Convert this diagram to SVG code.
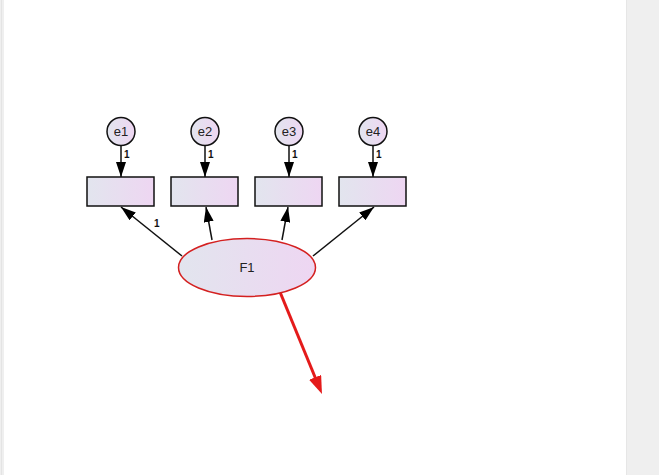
<svg xmlns="http://www.w3.org/2000/svg" width="659" height="475" viewBox="0 0 659 475">
<defs>
<linearGradient id="g" x1="0" y1="0" x2="1" y2="0">
<stop offset="0" stop-color="#e2e5ee"/>
<stop offset="1" stop-color="#eed6f2"/>
</linearGradient>
<marker id="ah2" viewBox="0 0 18 13" refX="1" refY="6.5" markerWidth="18" markerHeight="13" markerUnits="userSpaceOnUse" orient="auto">
<path d="M0,0 L18,6.5 L0,13 z" fill="#e41a1a"/>
</marker>
<marker id="ahs" viewBox="0 0 15 10" refX="15" refY="5" markerWidth="15" markerHeight="10" markerUnits="userSpaceOnUse" orient="auto">
<path d="M0,0 L15,5 L0,10 z" fill="#000"/>
</marker>
</defs>
<style>
.box{fill:url(#g);stroke:#111;stroke-width:1.5}
.err{fill:url(#g);stroke:#111;stroke-width:1.5}
.lat{fill:url(#g);stroke:#d42020;stroke-width:1.5}
.lbl{font-family:"Liberation Sans",Arial,sans-serif;font-size:13px;fill:#222;text-anchor:middle}
.w{font-family:"Liberation Sans",Arial,sans-serif;font-size:10px;fill:#111;font-weight:bold}
.c{stroke:#111;stroke-width:1.5;fill:none}
</style>
<rect x="0" y="0" width="659" height="475" fill="#efefef"/>
<rect x="4" y="0" width="622" height="475" fill="#ffffff"/>
<line x1="626.5" y1="0" x2="626.5" y2="475" stroke="#e6e6e6"/>
<line x1="1.5" y1="0" x2="1.5" y2="475" stroke="#e4e4e4"/>

<g id="connectors">
<line class="c" x1="121" y1="146" x2="121" y2="177" marker-end="url(#ahs)"/>
<line class="c" x1="205" y1="146" x2="205" y2="177" marker-end="url(#ahs)"/>
<line class="c" x1="289" y1="146" x2="289" y2="177" marker-end="url(#ahs)"/>
<line class="c" x1="373" y1="146" x2="373" y2="177" marker-end="url(#ahs)"/>
<line class="c" x1="182" y1="256" x2="121" y2="207" marker-end="url(#ahs)"/>
<line class="c" x1="212" y1="240" x2="206" y2="207" marker-end="url(#ahs)"/>
<line class="c" x1="282" y1="240" x2="288" y2="207" marker-end="url(#ahs)"/>
<line class="c" x1="313" y1="256" x2="374" y2="207" marker-end="url(#ahs)"/>
<line x1="280" y1="292" x2="315.5" y2="378.3" stroke="#e41a1a" stroke-width="3" marker-end="url(#ah2)"/>
<text class="w" x="124" y="158">1</text>
<text class="w" x="208" y="158">1</text>
<text class="w" x="292" y="158">1</text>
<text class="w" x="376" y="158">1</text>
<text class="w" x="154" y="227">1</text>
</g>

<g id="e1"><circle class="err" cx="121" cy="131.5" r="14"/><text class="lbl" x="121" y="136">e1</text></g>
<g id="e2"><circle class="err" cx="205" cy="131.5" r="14"/><text class="lbl" x="205" y="136">e2</text></g>
<g id="e3"><circle class="err" cx="289" cy="131.5" r="14"/><text class="lbl" x="289" y="136">e3</text></g>
<g id="e4"><circle class="err" cx="373" cy="131.5" r="14"/><text class="lbl" x="373" y="136">e4</text></g>

<g id="v1"><rect class="box" x="87" y="177" width="67" height="29"/></g>
<g id="v2"><rect class="box" x="171" y="177" width="67" height="29"/></g>
<g id="v3"><rect class="box" x="255" y="177" width="67" height="29"/></g>
<g id="v4"><rect class="box" x="339" y="177" width="67" height="29"/></g>

<g id="F1"><ellipse class="lat" cx="247" cy="267.5" rx="68.5" ry="29"/><text class="lbl" x="247" y="272">F1</text></g>
</svg>
